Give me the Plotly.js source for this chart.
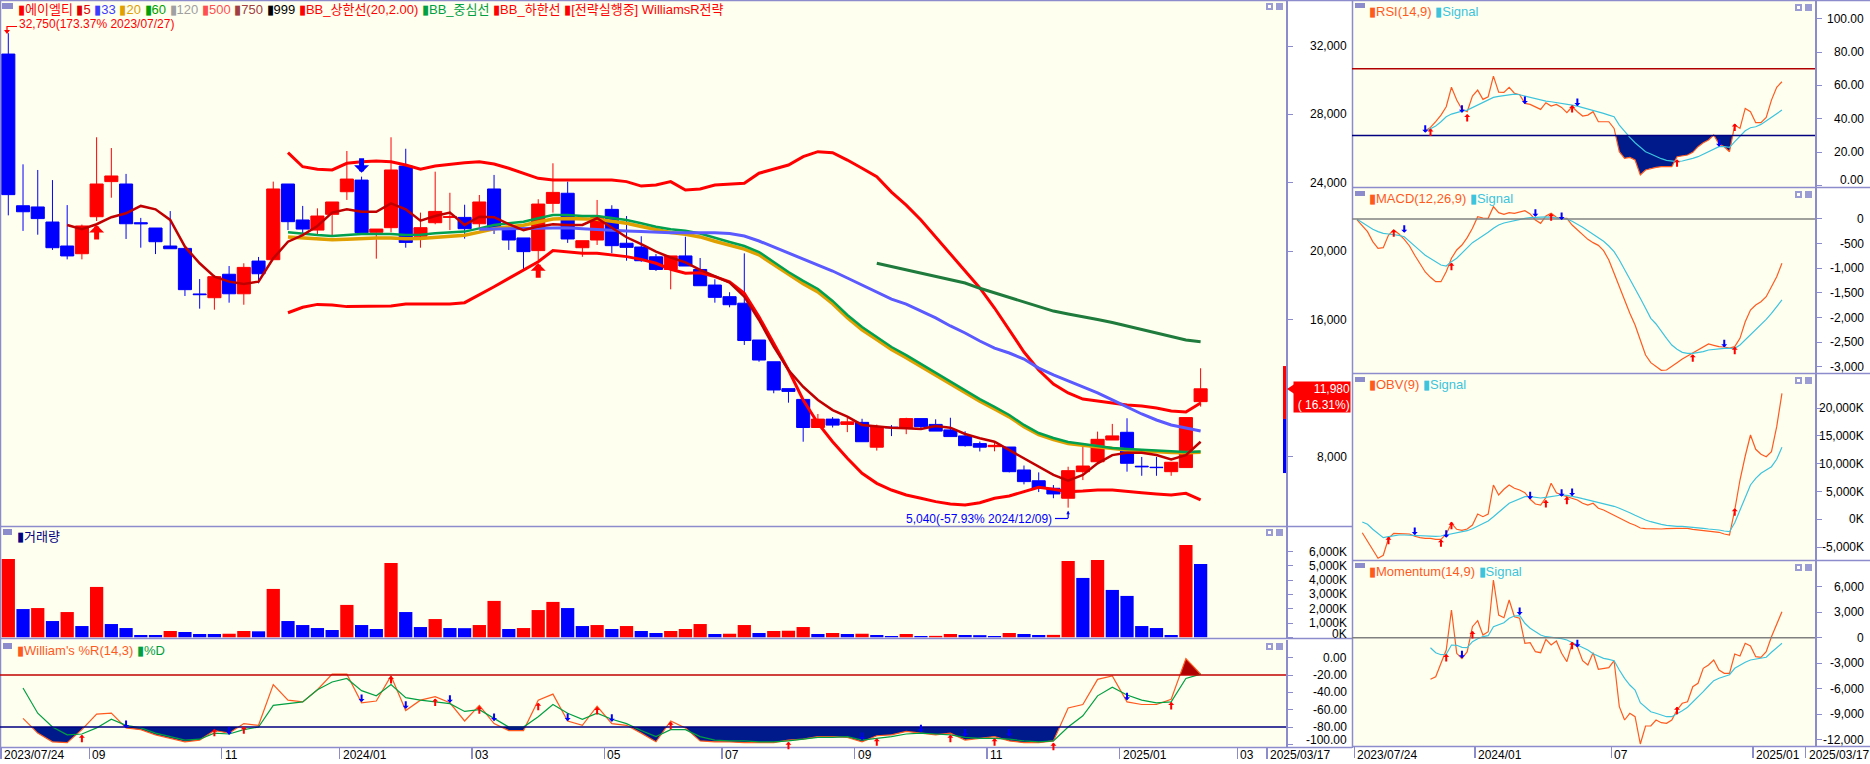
<!DOCTYPE html>
<html><head><meta charset="utf-8">
<script src="https://cdn.plot.ly/plotly-3.0.1.min.js"></script>
<style>html,body{margin:0;padding:0;background:#FFFFFF;}#chart{width:1870px;height:764px;}</style>
</head><body><div id="chart"></div>
<script>
// ---------------- DATA (weekly, slot 0 = week of 2023/07/24) ----------------
const open = [31530,22670,22600,21720,20320,19870,22030,24080,23940,21680,
21370,20320,20180,17520,17300,18670,17530,19440,19520,23940,
21840,21250,22170,23490,24170,21120,21390,24990,20890,21680,
21990,21990,21620,23650,21310,20790,20050,22810,23400,20220,
20670,22460,20480,20260,19690,18950,19740,18950,18040,17360,
16980,14830,13560,11990,11360,9720,10210,9900,10020,8570,
9740,9710,10240,9900,9580,9230,8780,8600,8580,7240,
6610,6170,5590,7140,7720,8990,9440,7460,7400,7140,
7380,11230];
const high = [32750,25090,24760,24170,22710,21570,26670,26040,24530,21960,
21370,22360,20180,18390,18630,19150,19310,19680,24080,23940,
22660,22520,22890,25870,24370,21310,26670,26000,22270,24660,
23430,22730,23300,24470,21310,20790,23050,25150,24080,20630,
23010,22700,22070,20890,19850,19740,20860,19620,18380,17620,
19890,14830,13560,11990,11360,10510,10330,10290,10230,9890,
9860,10290,10240,10200,10290,9500,8900,8890,8580,7500,
7100,6360,7430,8700,9480,9930,10260,8000,8000,7690,
10300,13180];
const low = [22110,21200,20980,20090,19540,19540,21780,23140,20730,20220,
19850,20160,17400,16660,16600,17010,16890,18140,19520,21250,
21020,21020,20860,23010,21000,19580,21120,20220,20220,21590,
21250,20750,21400,21020,20090,18860,19500,22270,20500,19690,
20380,19900,19460,19400,18860,17790,19150,18000,17010,16740,
14540,13560,11720,11170,8890,9720,9720,9450,8890,8370,
9220,9330,9600,9510,9190,8600,8320,8330,7100,6400,
5950,5590,5040,6650,7630,8990,7140,6900,6900,6900,
7380,10940];
const close = [23320,22320,21920,20220,19740,21490,23940,24410,21620,21620,
20570,20160,17770,17480,18530,17530,19070,18700,23650,21740,
21310,22070,22890,24230,21100,21310,24760,20530,21390,22340,
22030,21330,22890,21390,20670,19990,22770,23450,20730,20630,
21980,20340,20240,19460,18950,19740,19150,18000,17320,16890,
14800,13660,11910,11830,9720,10210,9860,10050,8890,9770,
9710,10240,9770,9510,9190,8660,8570,8680,7140,6560,
6170,5840,7200,7470,9030,9230,7630,7430,7380,7690,
10300,11980];
// volume in thousands of shares; volUp: 1 = red bar, 0 = blue bar
const volume = [5490,1980,2050,1140,1770,790,3530,930,650,160,
160,440,370,230,230,250,440,420,3390,1140,
860,650,510,2270,860,580,5210,1770,720,1280,
650,640,860,2550,580,650,1910,2480,2050,790,
860,580,790,440,300,440,580,930,230,250,
860,300,440,460,720,230,300,230,250,160,
90,230,90,100,230,160,150,90,300,230,
160,170,5350,4160,5420,3320,2900,790,650,160,
6470,5140];
const volUp = [1,0,1,0,1,0,1,0,0,0, 0,1,0,0,0,1,1,0,1,0, 0,0,0,1,0,0,1,0,0,1, 0,0,1,1,0,1,1,1,0,0,
1,0,1,0,0,1,1,1,0,1, 1,0,1,1,1,0,1,0,1,0, 0,1,0,1,1,0,0,0,1,0, 0,1,1,0,1,0,0,0,0,0, 1,0];

// price overlays (start slot noted)
const ma5Start = 4;
const ma5 = [21550,21300,21590,22000,22230,22660,22460,21840,20280,19310,
18530,18240,18100,18240,19600,20570,20960,21490,22270,22460,
22320,22320,22810,22460,21800,22070,22270,21550,22030,22000,
21600,21250,21450,21590,21550,21550,21940,21400,20830,20430,
19990,19650,19360,18920,18530,18180,17360,16000,14440,13080,
12100,11330,10740,10350,9870,9770,9710,9670,9630,9810,
9710,9340,9090,8890,8410,7920,7430,6950,6610,6950,
7630,8110,8250,8250,8110,7860,8110,8890];
const bbStart = 19;
const bbUpper = [25770,24950,24800,24760,25150,25240,25280,25240,25050,24800,
24990,25090,25180,25240,25110,24860,24570,24270,24170,24170,
24170,24170,24170,24080,23820,23880,24080,23590,23650,23880,
23920,23980,24570,24800,25050,25540,25830,25770,25340,24860,
24370,23470,22710,21840,20850,19850,18860,17870,16700,15410,
14130,13080,12260,11740,11380,11270,11150,11030,10980,10860,
10680,10630,11150];
const bbLower = [16420,16740,16910,16870,16780,16780,16780,16820,16930,16930,
16930,16930,17010,17460,17940,18430,18920,19400,20050,19990,
19890,19890,19790,19700,19540,19310,18960,18730,18760,18530,
18230,17560,16190,14640,13080,11330,9970,8890,7920,7050,
6460,6070,5780,5590,5390,5250,5190,5330,5590,5720,
5970,6230,6110,5970,6010,6070,6070,6010,5910,5840,
5780,5880,5490];
const bbMid = [21120,21020,20960,20900,20960,21020,21020,21020,20960,20980,
21060,21100,21160,21350,21550,21650,21740,21940,22130,22130,
22070,22070,21940,21840,21650,21450,21300,21210,21050,20790,
20550,20320,19970,19390,18800,18280,17810,17110,16290,15590,
15010,14420,13950,13430,12960,12440,11910,11380,10920,10450,
9870,9400,9110,8870,8760,8640,8520,8460,8410,8350,
8310,8290,8320];
const ma20 = [20850,20780,20720,20680,20720,20770,20780,20780,20740,20760,
20830,20880,20950,21130,21330,21440,21530,21720,21900,21920,
21880,21880,21760,21650,21460,21260,21110,21010,20850,20600,
20370,20140,19800,19230,18640,18120,17640,16950,16130,15430,
14860,14270,13800,13290,12830,12310,11790,11260,10810,10340,
9770,9300,9020,8790,8680,8570,8460,8400,8360,8300,
8260,8240,8270];
const ma33Start = 32;
const ma33 = [21300,21310,21330,21330,21370,21390,21390,21330,21300,21250,
21200,21160,21120,21100,21100,21100,21100,21050,20900,20610,
20260,19910,19560,19210,18860,18450,18040,17630,17220,16930,
16520,16120,15650,15240,14770,14360,14070,13720,13190,12790,
12440,12090,11740,11330,10920,10510,10160,9870,9690,9520];
const ma60Start = 59;
const ma60 = [19310,19120,18920,18740,18570,18390,18160,17850,17580,17340,
17070,16760,16520,16350,16200,16030,15850,15650,15410,15220,
15010,14830,14730];

// Williams %R (14,3) from slot 1
const wrStart = 1;
const williamsR = [-70,-87,-97,-98,-83,-65,-64,-81,-83,-89,
-93,-97,-95,-84,-87,-76,-78,-31,-49,-51,
-37,-19,-19,-52,-50,-21,-61,-49,-45,-52,
-73,-55,-76,-84,-84,-49,-42,-73,-78,-56,
-76,-78,-87,-97,-73,-81,-96,-97,-97,-98,
-98,-98,-95,-94,-91,-91,-92,-97,-90,-89,
-85,-87,-89,-87,-95,-93,-91,-96,-98,-98,
-96,-58,-54,-25,-21,-51,-54,-54,-48,-1,
-19];
const williamsD = [-35,-64,-80,-89,-88,-81,-71,-78,-81,-87,
-91,-95,-94,-87,-88,-83,-80,-55,-53,-51,
-37,-28,-24,-38,-44,-31,-46,-49,-51,-53,
-62,-60,-70,-80,-80,-68,-54,-64,-71,-64,
-71,-76,-84,-91,-83,-83,-91,-95,-96,-96,
-97,-97,-96,-94,-92,-92,-91,-95,-93,-91,
-88,-87,-88,-89,-92,-93,-93,-94,-96,-97,
-96,-80,-67,-44,-34,-43,-49,-52,-51,-24,
-19];

// RSI(14,9) from slot 13
const rsiStart = 13;
const rsi = [32.8,34.8,38.2,42.2,47.2,58.9,51.2,45.6,44.2,53.6,
57.2,51.6,53.2,65.6,56.0,55.8,58.9,55.3,54.4,49.2,
48.6,47.2,45.6,49.6,47.6,48.6,46.8,43.6,47.2,44.2,
41.6,42.2,44.2,38.2,38.2,38.2,34.2,20.2,16.2,16.8,
15.2,6.2,9.2,10.2,10.8,11.2,11.2,11.2,17.2,17.6,
18.2,19.8,23.2,25.6,27.2,30.2,24.8,23.2,20.2,36.2,
34.2,46.2,44.2,37.6,37.6,40.8,51.2,58.9,62.2];
const rsiSignal = [32.4,34.0,35.6,38.2,41.2,42.8,43.8,44.6,45.2,46.8,
48.2,49.6,51.6,52.8,53.4,54.0,54.4,54.8,54.4,53.6,
52.8,51.8,51.2,50.6,50.2,49.8,49.2,48.8,48.2,47.6,
46.8,45.9,45.2,44.2,43.2,42.2,41.2,36.2,32.2,28.8,
25.6,22.8,20.2,18.8,17.2,16.0,15.0,14.4,14.2,14.6,
15.2,16.2,17.2,18.8,20.2,22.0,23.2,23.2,22.8,26.2,
29.2,32.8,34.6,35.2,36.6,38.8,40.8,43.2,45.2];

// MACD(12,26,9) from slot 0
const macd = [-20,-136,-257,-460,-595,-582,-325,-223,-305,-413,
-548,-737,-900,-1076,-1184,-1272,-1272,-1069,-798,-629,
-528,-379,-189,47,20,14,250,129,95,129,
115,142,169,102,-20,-88,61,115,34,7,
14,-122,-223,-332,-413,-480,-535,-643,-832,-1103,
-1360,-1644,-1915,-2152,-2456,-2761,-2916,-2998,-3072,-3065,
-2998,-2916,-2842,-2781,-2706,-2645,-2592,-2537,-2564,-2592,
-2598,-2619,-2592,-2422,-2085,-1847,-1746,-1678,-1577,-1374,
-1171,-900];
const macdSignal = [-7,-74,-142,-210,-257,-291,-305,-312,-332,-359,
-460,-548,-643,-737,-805,-873,-934,-954,-866,-798,
-697,-575,-480,-413,-345,-271,-189,-122,-81,-54,
-27,0,14,27,34,41,41,34,27,14,
0,-47,-101,-169,-237,-305,-372,-453,-548,-663,
-832,-1022,-1238,-1428,-1610,-1813,-2016,-2131,-2287,-2422,
-2558,-2645,-2706,-2727,-2727,-2714,-2693,-2659,-2645,-2632,
-2625,-2625,-2625,-2558,-2456,-2355,-2253,-2152,-2037,-1915,
-1780,-1644];

// OBV(9) in K from slot 1
const obvStart = 1;
const obv = [-2412,-4032,-5526,-7020,-6480,-3420,-2520,-2520,-2592,-2646,
-3060,-3312,-3420,-3420,-3600,-3600,-2646,-720,-1800,-1980,
-1746,-1026,954,468,954,6174,4374,5400,6174,5580,
5274,4788,3600,2754,2574,3888,6480,4788,4374,4068,
3708,3474,2880,2574,2880,1980,1674,1188,648,180,
-252,-720,-1080,-1566,-1692,-1746,-1800,-1746,-1692,-1620,
-1620,-1620,-1620,-1800,-1926,-1980,-2106,-2232,-2340,-2646,
-2826,1674,7074,11394,15174,12600,11700,11268,12168,16668,
22680];
const obvSignal = [-486,-900,-1800,-2646,-3312,-3132,-2952,-2826,-2826,-2880,
-2952,-3006,-3060,-3132,-3060,-3006,-2826,-2520,-2412,-2286,
-2052,-1692,-1206,-720,-306,468,1368,2088,2880,3294,
3708,4068,4068,3888,3834,3960,4068,4248,4374,4320,
4194,3960,3708,3474,3294,3114,2880,2574,2340,1980,
1620,1188,720,234,-126,-432,-720,-900,-1080,-1206,
-1260,-1260,-1332,-1386,-1512,-1620,-1746,-1800,-1926,-2106,
-2232,-612,1674,4068,6174,7380,8280,8874,9468,10800,
12960];

// Momentum(14,9) from slot 14
const momStart = 14;
const momentum = [-4892,-4586,-3011,-1446,3257,-1835,-2470,-1646,1294,2000,
318,706,6786,2670,2352,4434,2470,2282,-659,-588,
-1646,-1764,-188,-858,-388,-1835,-2822,-659,-1058,-2705,
-3211,-1764,-3716,-3599,-3528,-2705,-8114,-9678,-8890,-9290,
-12500,-10384,-10384,-9678,-9996,-10066,-9678,-8502,-7714,-7526,
-5762,-5363,-3599,-3211,-2622,-3798,-4187,-4187,-1917,-2152,
-659,-976,-2234,-2305,-1646,118,1693,3058];
const momSignal = [-1176,-1764,-1999,-1952,-858,-894,-1129,-1176,-470,-118,
118,235,1294,1576,1764,2282,2552,2587,1693,1105,
706,318,118,47,-35,-118,-270,-541,-858,-1129,
-1446,-1882,-2152,-2422,-2540,-2705,-3798,-4774,-5562,-6150,
-7644,-8185,-8702,-8890,-9126,-9290,-9290,-8973,-8585,-8185,
-7597,-7056,-6350,-5680,-5057,-4774,-4586,-4351,-3599,-3211,
-2893,-2622,-2540,-2470,-2305,-1717,-1129,-659];

// strategy signals: [slot, value]
const mainBuy = [[6,21550],[36,19310]];
const mainSell = [[24,24600]];
const wrBuy = [[5,-89],[14,-82],[16,-79],[26,-21],[29,-47],[32,-56],[36,-52],[40,-57],[45,-74],[53,-97],[59,-93],[64,-89],[67,-93],[71,-98],[79,-51]];
const wrSell = [[8,-81],[15,-89],[24,-51],[27,-59],[30,-52],[33,-73],[38,-73],[41,-74],[58,-95],[62,-86],[65,-91],[68,-91],[76,-49]];
const rsiBuy = [[14,34.2],[21,42.8],[41,48.2],[61,15.6],[72,37.2]];
const rsiSell = [[13,31.6],[20,43.6],[32,48.8],[42,47.6],[69,23.2]];
const macdBuy = [[7,-210],[18,-887],[37,115],[64,-2747],[72,-2592]];
const macdSell = [[9,-277],[34,47],[39,-20],[70,-2605]];
const obvBuy = [[6,-3132],[16,-3600],[18,-432],[36,3474],[40,4068],[72,1980]];
const obvSell = [[11,-2826],[17,-3312],[33,3600],[39,4068],[41,4194]];
const momBuy = [[17,-1917],[22,788],[41,-470],[61,-8114]];
const momSell = [[20,-2422],[31,2670],[42,-1129]];

// axis ticks and labels (12,000 label is hidden behind the last-price box in the reference)
const priceTicks = [32000,28000,24000,20000,16000,12000,8000];
const priceLabels = [32000,28000,24000,20000,16000,8000];
const volTicks = [6000,5000,4000,3000,2000,1000,0];
const wrTicks = [0,-20,-40,-60,-80,-100];
const rsiTicks = [100,80,60,40,20,0];
const macdTicks = [0,-500,-1000,-1500,-2000,-2500,-3000];
const obvTicks = [20000,15000,10000,5000,0,-5000];
const momTicks = [6000,3000,0,-3000,-6000,-9000,-12000];
const mainDateSlots = [0,6,15,23,32,41,49,58,67,76,84,86];
const mainDateLabels = ['2023/07/24','09','11','2024/01','03','05','07','09','11','2025/01','03','2025/03/17'];
const rightDateSlots = [0,23,49,76,86];
const rightDateLabels = ['2023/07/24','2024/01','07','2025/01','2025/03/17'];
const legendItems = [['에이엘티','#FF0000'],['5','#E00000'],['33','#3C3CFF'],['20','#E0A000'],['60','#00A000'],['120','#A0A0A0'],['500','#FF5050'],['750','#A04040'],['999','#000000'],['BB_상한선(20,2.00)','#FF0000'],['BB_중심선','#00A040'],['BB_하한선','#FF0000'],['[전략실행중] WilliamsR전략','#FF0000']];
const highNote = '32,750(173.37% 2023/07/27)';
const lowNote = '5,040(-57.93% 2024/12/09)';
const lowSlot = 72, lowPrice = 5040;
const lastLabel = ['11,980','( 16.31%)'];
const rangeBar = [13310, 10220, 7060];

// ---------------- RENDER ----------------
const W = 1870, H = 764;
const X = p => p / W, Y = p => 1 - p / H;
const seq = (s, n) => Array.from({length: n}, (_, i) => s + i);
const FONT = '"Liberation Sans", Arial, "Noto Sans CJK KR", sans-serif';
const PAPER = '#FFFFFF', BG = '#FFFFF0', BORDER = '#8C8CCC', RED = '#FF0000', BLUE = '#0000FF';
const ORANGE = '#FF5A1E', CYAN = '#3CC4DC', NAVY = '#001A8C';
const fmt = v => v.toLocaleString('en-US');

const traces = [];
const slots = seq(0, close.length);
traces.push({type:'candlestick', x: slots, open, high, low, close, xaxis:'x', yaxis:'y', whiskerwidth:0, hoverinfo:'skip',
  increasing:{line:{color:RED, width:1}, fillcolor:RED}, decreasing:{line:{color:BLUE, width:1}, fillcolor:BLUE}});
function line(start, arr, color, width, xa, ya) {
  traces.push({type:'scatter', mode:'lines', x: seq(start, arr.length), y: arr, line:{color, width}, xaxis:xa, yaxis:ya, hoverinfo:'skip'});
}
line(bbStart, bbUpper, RED, 3, 'x', 'y');
line(bbStart, bbLower, RED, 3, 'x', 'y');
line(bbStart, ma20, '#E0A000', 3.5, 'x', 'y');
line(bbStart, bbMid, '#00A050', 2.5, 'x', 'y');
line(ma33Start, ma33, '#5A5AFF', 3, 'x', 'y');
line(ma60Start, ma60, '#1E7B3C', 3, 'x', 'y');
line(ma5Start, ma5, '#C00000', 2.5, 'x', 'y');

traces.push({type:'bar', x: slots, y: volume, width:0.9, marker:{color: volUp.map(u => u ? RED : BLUE), line:{width:0}}, xaxis:'x2', yaxis:'y2', hoverinfo:'skip'});

function band(start, arr, level, below, color, xa, ya) {
  const xs = seq(start, arr.length), ox = [], oy = [];
  for (let i = 0; i < xs.length; i++) {
    if (i > 0) {
      const a = arr[i-1] - level, b = arr[i] - level;
      if (a * b < 0) { const t = a / (a - b); ox.push(xs[i-1] + t); oy.push(level); }
    }
    ox.push(xs[i]); oy.push(below ? Math.min(arr[i], level) : Math.max(arr[i], level));
  }
  traces.push({type:'scatter', mode:'lines', x: ox, y: ox.map(() => level), line:{width:0, color:'rgba(0,0,0,0)'}, xaxis:xa, yaxis:ya, hoverinfo:'skip'});
  traces.push({type:'scatter', mode:'lines', x: ox, y: oy, fill:'tonexty', fillcolor:color, line:{width:0, color:'rgba(0,0,0,0)'}, xaxis:xa, yaxis:ya, hoverinfo:'skip'});
}
band(wrStart, williamsR, -80, true, NAVY, 'x3', 'y3');
band(wrStart, williamsR, -20, false, '#B00000', 'x3', 'y3');
line(wrStart, williamsR, ORANGE, 1.2, 'x3', 'y3');
line(wrStart, williamsD, '#00A040', 1.2, 'x3', 'y3');

band(rsiStart, rsi, 30, true, NAVY, 'x4', 'y4');
line(rsiStart, rsi, ORANGE, 1.2, 'x4', 'y4');
line(rsiStart, rsiSignal, CYAN, 1.2, 'x4', 'y4');
line(0, macd, ORANGE, 1.2, 'x5', 'y5');
line(0, macdSignal, CYAN, 1.2, 'x5', 'y5');
line(obvStart, obv, ORANGE, 1.2, 'x6', 'y6');
line(obvStart, obvSignal, CYAN, 1.2, 'x6', 'y6');
line(momStart, momentum, ORANGE, 1.2, 'x7', 'y7');
line(momStart, momSignal, CYAN, 1.2, 'x7', 'y7');

// axes
const mainRange = [-0.564, 86.8], rightRange = [-0.96, 87.3];
function xa(domain, range, anchor, extra) {
  return Object.assign({domain, range, anchor, showgrid:false, zeroline:false, showticklabels:false, showline:false, ticks:'', fixedrange:true}, extra || {});
}
function ya(domain, range, anchor, tickvals) {
  return {domain, range, anchor, side:'right', showgrid:false, zeroline:false, showticklabels:false, showline:true,
    linecolor:BORDER, linewidth:1.5, ticks:'outside', ticklen:5, tickwidth:1, tickcolor:BORDER, tickvals, fixedrange:true};
}
const bottomTicks = s => ({ticks:'outside', ticklen:11, tickwidth:1.5, tickcolor:BORDER, tickvals: s.map(v => v - 0.5)});

const ann = [], shp = [];
const tickFont = {family: FONT, size: 12, color: '#000000'};
function yLabels(yref, ticks, fmtFn, xRight, edgeShift) {
  ticks.forEach((v, i) => ann.push({xref:'paper', x: X(xRight), xanchor:'right', yref, y: v, yanchor:'middle',
    yshift: (edgeShift && i === ticks.length - 1) ? edgeShift : 0, text: fmtFn(v), showarrow:false, font: tickFont}));
}
yLabels('y', priceLabels, fmt, 1349);
yLabels('y2', volTicks, v => fmt(v) + 'K', 1349, 3);
yLabels('y3', wrTicks, v => v.toFixed(2), 1349, 4);
yLabels('y4', rsiTicks, v => v.toFixed(2), 1866, 5);
yLabels('y5', macdTicks, fmt, 1866);
yLabels('y6', obvTicks, v => fmt(v) + 'K', 1866);
yLabels('y7', momTicks, fmt, 1866);

function xLabels(xref, s, labels) {
  s.forEach((v, i) => ann.push({xref, x: v - 0.5, xanchor:'left', xshift:1, yref:'paper', y: Y(755), yanchor:'middle',
    text: labels[i], showarrow:false, font: tickFont}));
}
xLabels('x3', mainDateSlots, mainDateLabels);
xLabels('x7', rightDateSlots, rightDateLabels);

// panel borders
function hl(y, x0, x1, color, w) { shp.push({type:'line', xref:'paper', yref:'paper', x0:X(x0), x1:X(x1), y0:Y(y), y1:Y(y), line:{color: color || BORDER, width: w || 1.5}}); }
function vl(x, y0, y1) { shp.push({type:'line', xref:'paper', yref:'paper', x0:X(x), x1:X(x), y0:Y(y0), y1:Y(y1), line:{color:BORDER, width:1.5}}); }
function rect(x0, y0, x1, y1, fill) { shp.push({type:'rect', xref:'paper', yref:'paper', x0:X(x0), x1:X(x1), y0:Y(y1), y1:Y(y0), fillcolor:fill, line:{width:0}}); }
hl(0.5, 0, 1870); hl(526.5, 0, 1352); hl(638.5, 0, 1352); hl(747.5, 0, 1352);
hl(187.5, 1352, 1870); hl(373.5, 1352, 1870); hl(560.5, 1352, 1870); hl(746.5, 1352, 1870);
vl(0.5, 0, 748); vl(1352.5, 0, 748);

// reference lines inside panels
function refLine(side, yref, y, color, w) { shp.push({type:'line', xref:'paper', yref, x0: side === 'L' ? 0 : X(1352), x1: side === 'L' ? X(1286) : X(1815), y0:y, y1:y, line:{color, width:w}}); }
refLine('L', 'y3', -20, '#C00000', 1.5);
refLine('L', 'y3', -80, '#000080', 1.5);
refLine('R', 'y4', 70, '#B00000', 1.5);
refLine('R', 'y4', 30, '#000080', 1.5);
refLine('R', 'y5', 0, '#808080', 1.5);
refLine('R', 'y7', 0, '#808080', 1.5);

// panel icons and window buttons
[[3,529],[3,643]].forEach(([x,y]) => rect(x, y, x+9, y+6, BORDER));
rect(2, 3, 13, 9, BORDER);
[3, 191, 377, 563].forEach(y => rect(1355, y, 1365, y+5, BORDER));
[[1266,3],[1266,529],[1266,643],[1795,4],[1795,191],[1795,377],[1795,564]].forEach(([x,y]) => {
  rect(x, y, x+7, y+7, '#9C9CD4'); rect(x+2, y+2, x+5, y+5, '#FFFFFF');
  rect(x+10, y, x+17, y+7, '#9C9CD4');
});

// headers
const hdrFont = sz => ({family: FONT, size: sz, color:'#000'});
const span = (c, t) => `<span style="color:${c}">▮${t}</span>`;
ann.push({xref:'paper', yref:'paper', x:X(16), y:Y(10), xanchor:'left', yanchor:'middle', showarrow:false, font:hdrFont(13),
  text: legendItems.map(([t, c]) => span(c, t)).join(' ')});
ann.push({xref:'paper', yref:'paper', x:X(17), y:Y(24), xanchor:'left', yanchor:'middle', showarrow:false, font:{family:FONT, size:12, color:RED}, text: highNote});
shp.push({type:'path', xref:'paper', yref:'paper', path:`M ${X(17)} ${Y(26.5)} L ${X(7)} ${Y(26.5)} L ${X(7)} ${Y(32)}`, line:{color:RED, width:1.2}});
shp.push({type:'path', xref:'paper', yref:'paper', path:`M ${X(4)} ${Y(30)} L ${X(10)} ${Y(30)} L ${X(7)} ${Y(34)} Z`, fillcolor:RED, line:{width:0}});
ann.push({xref:'paper', yref:'paper', x:X(15), y:Y(536), xanchor:'left', yanchor:'middle', showarrow:false, font:hdrFont(13), text: span('#000080', '거래량')});
ann.push({xref:'paper', yref:'paper', x:X(15), y:Y(650), xanchor:'left', yanchor:'middle', showarrow:false, font:hdrFont(13), text: span(ORANGE, "William's %R(14,3)") + ' ' + span('#00A040', '%D')});
[['RSI(14,9)', 11], ['MACD(12,26,9)', 198], ['OBV(9)', 384], ['Momentum(14,9)', 571]].forEach(([t, y]) =>
  ann.push({xref:'paper', yref:'paper', x:X(1367), y:Y(y), xanchor:'left', yanchor:'middle', showarrow:false, font:hdrFont(13), text: span(ORANGE, t) + ' ' + span(CYAN, 'Signal')}));

// low note
ann.push({xref:'x', yref:'y', x: lowSlot, y: lowPrice, xanchor:'right', yanchor:'middle', xshift:-14, yshift:-11, showarrow:false, font:{family:FONT, size:12, color:BLUE}, text: lowNote});
ann.push({xref:'x', yref:'y', x: lowSlot, y: lowPrice, ax:0, ay:9, showarrow:true, arrowhead:2, arrowsize:0.6, arrowwidth:1.2, arrowcolor:BLUE, text:'', yshift:-3});
shp.push({type:'path', xref:'paper', yref:'paper', path:`M ${X(1055)} ${Y(518.5)} L ${X(1068)} ${Y(518.5)}`, line:{color:BLUE, width:1.2}});

// last price marker
shp.push({type:'rect', xref:'paper', yref:'y', x0:X(1283), x1:X(1286), y0:rangeBar[1], y1:rangeBar[0], fillcolor:RED, line:{width:0}});
shp.push({type:'rect', xref:'paper', yref:'y', x0:X(1283), x1:X(1286), y0:rangeBar[2], y1:rangeBar[1], fillcolor:BLUE, line:{width:0}});
ann.push({xref:'paper', yref:'y', x:X(1351), y: close[close.length-1], xanchor:'right', yanchor:'top', yshift:8, showarrow:false,
  text: lastLabel.join('<br>'), align:'right', bgcolor:RED, width:56, height:30, borderpad:0, font:{family:FONT, size:12, color:'#FFFFFF'}});
shp.push({type:'path', xref:'paper', yref:'paper', path:`M ${X(1287)} ${Y(389)} L ${X(1296)} ${Y(383)} L ${X(1296)} ${Y(395)} Z`, fillcolor:RED, line:{width:0}});

// signal arrows
function arrows(xref, yref, list, up, w, s, len) {
  list.forEach(([x, y]) => ann.push({xref, yref, x, y, ax:0, ay: up ? len : -len, showarrow:true, arrowhead:1, arrowsize:s, arrowwidth:w, arrowcolor: up ? RED : BLUE, text:''}));
}
arrows('x', 'y', mainBuy, true, 5, 0.5, 16);
arrows('x', 'y', mainSell, false, 5, 0.5, 16);
arrows('x3', 'y3', wrBuy, true, 2, 0.5, 9);
arrows('x3', 'y3', wrSell, false, 2, 0.5, 9);
arrows('x4', 'y4', rsiBuy, true, 2, 0.5, 9);
arrows('x4', 'y4', rsiSell, false, 2, 0.5, 9);
arrows('x5', 'y5', macdBuy, true, 2, 0.5, 9);
arrows('x5', 'y5', macdSell, false, 2, 0.5, 9);
arrows('x6', 'y6', obvBuy, true, 2, 0.5, 9);
arrows('x6', 'y6', obvSell, false, 2, 0.5, 9);
arrows('x7', 'y7', momBuy, true, 2, 0.5, 9);
arrows('x7', 'y7', momSell, false, 2, 0.5, 9);

const layout = {
  width: W, height: H, margin:{l:0, r:0, t:0, b:0}, paper_bgcolor: PAPER, plot_bgcolor: BG,
  showlegend:false, hovermode:false, boxgap:0.11, boxgroupgap:0,
  xaxis: xa([0, X(1286)], mainRange, 'y', {rangeslider:{visible:false}}),
  yaxis: ya([Y(526), Y(1)], [3968, 34628], 'x', priceTicks),
  xaxis2: xa([0, X(1286)], mainRange, 'y2'),
  yaxis2: ya([Y(638), Y(527)], [-49, 7730], 'x2', volTicks),
  xaxis3: xa([0, X(1286)], mainRange, 'y3', bottomTicks(mainDateSlots)),
  yaxis3: ya([Y(747), Y(640)], [-103, 20.4], 'x3', wrTicks),
  xaxis4: xa([X(1352), X(1815)], rightRange, 'y4'),
  yaxis4: ya([Y(187), Y(1)], [-1, 110.7], 'x4', rsiTicks),
  xaxis5: xa([X(1352), X(1815)], rightRange, 'y5'),
  yaxis5: ya([Y(373), Y(188)], [-3126, 629], 'x5', macdTicks),
  xaxis6: xa([X(1352), X(1815)], rightRange, 'y6'),
  yaxis6: ya([Y(560), Y(374)], [-7326, 26154], 'x6', obvTicks),
  xaxis7: xa([X(1352), X(1815)], rightRange, 'y7', bottomTicks(rightDateSlots)),
  yaxis7: ya([Y(746), Y(561)], [-12736, 9020], 'x7', momTicks),
  shapes: shp, annotations: ann
};
Plotly.newPlot('chart', traces, layout, {displayModeBar:false, staticPlot:true});
</script></body></html>
